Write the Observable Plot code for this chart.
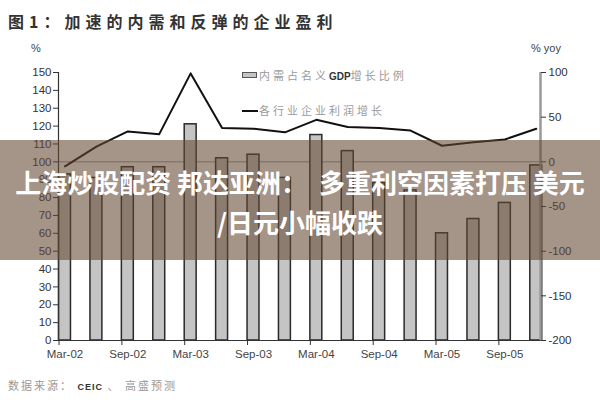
<!DOCTYPE html>
<html>
<head>
<meta charset="utf-8">
<script src="https://cdn.jsdelivr.net/npm/d3@7"></script>
<script src="https://cdn.jsdelivr.net/npm/@observablehq/plot@0.6"></script>
<style>
html,body{margin:0;padding:0;background:#fff;}
#wrap{position:relative;width:600px;height:400px;overflow:hidden;font-family:"Liberation Sans",Arial,sans-serif;}
#chart{position:absolute;left:0;top:0;}
.abs{position:absolute;white-space:pre;line-height:1;}
#title{left:8px;top:13px;font-family:"Noto Sans CJK SC";font-weight:700;font-size:16px;letter-spacing:5px;color:#333;}
#unitL{left:31px;top:43px;font-size:11px;color:#444;}
#unitR{left:531px;top:43px;font-size:11px;color:#444;}
.leg{font-family:"Noto Sans CJK SC";font-size:11px;color:#9a9a9a;letter-spacing:3px;}
.leg b{font-family:"Liberation Sans";font-size:10px;color:#333;letter-spacing:0;}
#sw1{left:242px;top:72px;width:13px;height:4px;border:1.5px solid #555;background:#c4c4c4;}
#sw2{left:242px;top:110px;width:16px;height:2px;background:#111;}
#leg1{left:259px;top:70px;}
#leg2{left:259px;top:105px;}
#caption{left:8px;top:380px;font-family:"Noto Sans CJK SC";font-size:11px;color:#9a9a9a;letter-spacing:2px;}
#caption b{font-family:"Liberation Sans";font-size:9px;color:#333;letter-spacing:1px;}
#overlay{position:absolute;left:0;top:140px;width:600px;height:120px;background:rgba(100,70,50,0.58);
  color:#fff;font-family:"Noto Sans CJK SC";font-weight:700;font-size:26px;line-height:40px;text-align:center;
  padding-top:22px;box-sizing:border-box;white-space:pre;}
</style>
</head>
<body>
<div id="wrap">
  <div id="chart"></div>
  <div class="abs" id="title">图1：加速的内需和反弹的企业盈利</div>
  <div class="abs" id="unitL">%</div>
  <div class="abs" id="unitR">% yoy</div>
  <div class="abs" id="sw1"></div>
  <div class="abs leg" id="leg1">内需占名义<b>GDP</b>增长比例</div>
  <div class="abs" id="sw2"></div>
  <div class="abs leg" id="leg2">各行业企业利润增长</div>
  <div class="abs" id="caption">数据来源： <b>CEIC</b> 、 高盛预测</div>
  <div id="overlay">上海炒股配资 邦达亚洲：  多重利空因素打压 美元
/日元小幅收跌</div>
</div>
<script>
const quarters = ["Mar-02","Jun-02","Sep-02","Dec-02","Mar-03","Jun-03","Sep-03","Dec-03",
                  "Mar-04","Jun-04","Sep-04","Dec-04","Mar-05","Jun-05","Sep-05","Dec-05"];
// 内需占名义GDP增长比例 (%), left axis
const domesticShare = [93, 91, 97, 97, 121, 102, 104, 91, 115, 106, 88, 84, 60, 68, 77, 98];
// 各行业企业利润增长 (% yoy), right axis
const profitGrowth = [-5, 17, 34, 31, 99, 38, 37, 33, 47, 39, 38, 35, 18, 22, 25, 37];
const leftTicks = [0,10,20,30,40,50,60,70,80,90,100,110,120,130,140,150];
const rightTicks = [-200,-150,-100,-50,0,50,100];
const labelIdx = [0,2,4,6,8,10,12,14];

const data = quarters.map((q, i) => ({q, i, share: domesticShare[i], growth: profitGrowth[i]}));
const toLeft = r => (r + 200) / 2;   // right axis [-200,100] -> left axis [0,150]
const half = 0.19;                   // half bar width in quarter units
const xDomain = [-0.207, 15.135];

const chart = Plot.plot({
  width: 600, height: 400,
  marginTop: 72, marginBottom: 60, marginLeft: 58, marginRight: 60,
  x: {domain: xDomain},
  y: {domain: [0, 150]},
  style: {fontFamily: "'Liberation Sans', Arial, sans-serif", fontSize: "11.5px", color: "#333", background: "transparent"},
  marks: [
    Plot.ruleY([toLeft(0)], {stroke: "#999", strokeWidth: 1}),
    Plot.rect(data, {x1: d => d.i - half, x2: d => d.i + half, y1: 0, y2: "share",
      fill: "#c4c4c4", stroke: "#2a2a2a", strokeWidth: 1.5}),
    Plot.line(data, {x: "i", y: d => toLeft(d.growth), stroke: "#111", strokeWidth: 2}),
    Plot.ruleY([0], {stroke: "#333", strokeWidth: 1.2}),
    Plot.ruleX([xDomain[0]], {stroke: "#333", strokeWidth: 1.2}),
    Plot.ruleX([xDomain[1]], {stroke: "#999", strokeWidth: 2.5}),
    Plot.axisY({anchor: "left", ticks: leftTicks, tickSize: 5, tickPadding: 2, label: null}),
    Plot.axisY({anchor: "right", ticks: rightTicks.map(toLeft), tickFormat: v => String(v * 2 - 200),
      tickSize: 5, tickPadding: 3, label: null}),
    Plot.axisX({ticks: labelIdx.map(i => i - half), tickFormat: () => "", tickSize: 5, label: null}),
    Plot.axisX({ticks: labelIdx, tickFormat: i => quarters[i], tickSize: 0, tickPadding: 9, label: null, fill: "#444"})
  ]
});
document.getElementById("chart").appendChild(chart);
</script>
</body>
</html>
